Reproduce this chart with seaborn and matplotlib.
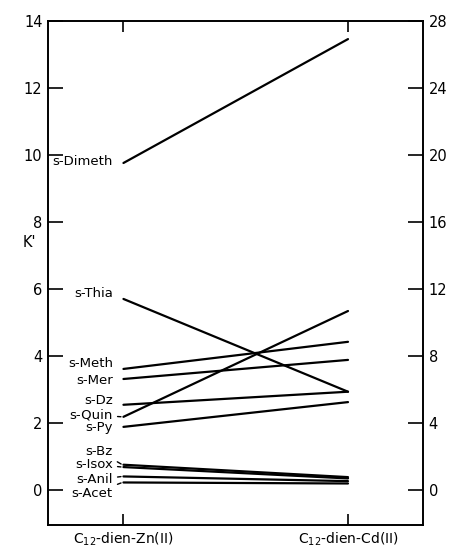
import matplotlib
matplotlib.use("Agg")
import matplotlib.pyplot as plt
import seaborn as sns
import pandas as pd

# ---- data ----
compounds = ["s-Dimeth", "s-Thia", "s-Meth", "s-Mer", "s-Dz", "s-Quin",
             "s-Py", "s-Bz", "s-Isox", "s-Anil", "s-Acet"]
k_zn = [9.76, 5.70, 3.61, 3.31, 2.54, 2.18, 1.88, 0.75, 0.68, 0.40, 0.22]
k_cd = [13.46, 2.93, 4.42, 3.88, 2.93, 5.34, 2.62, 0.38, 0.34, 0.26, 0.19]
complexes = ["C$_{12}$-dien-Zn(II)", "C$_{12}$-dien-Cd(II)"]
left_ticks = [0, 2, 4, 6, 8, 10, 12, 14]
right_ticks = [0, 4, 8, 12, 16, 20, 24, 28]

# label layout (text y in K' units, whether a leader stroke is drawn)
label_y = [9.80, 5.85, 3.76, 3.27, 2.66, 2.24, 1.85, 1.15, 0.76, 0.30, -0.12]
leader = [False, False, False, False, False, True, False, True, True, True, True]

rows = []
for c, a, b in zip(compounds, k_zn, k_cd):
    rows.append({"compound": c, "pos": 0, "K": a})
    rows.append({"compound": c, "pos": 1, "K": b})
df = pd.DataFrame(rows)

sns.set_style("ticks")
plt.rcParams["font.family"] = ["DejaVu Sans"]
plt.rcParams["text.color"] = "black"
plt.rcParams["xtick.color"] = "black"
plt.rcParams["ytick.color"] = "black"
plt.rcParams["xtick.labelcolor"] = "black"
plt.rcParams["ytick.labelcolor"] = "black"
plt.rcParams["axes.labelcolor"] = "black"

fig = plt.figure(figsize=(4.54, 5.53), dpi=100)
ax = fig.add_axes([48 / 454, 1 - 525 / 553, 375 / 454, 504 / 553])

sns.lineplot(data=df, x="pos", y="K", units="compound", estimator=None,
             color="black", linewidth=1.6, ax=ax, legend=False)

ax.set_xlim(-0.336, 1.334)
ax.set_ylim(-1.05, 14)
ax.set_xticks([0, 1])
ax.set_xticklabels(complexes, fontsize=10)
ax.set_yticks(left_ticks)
ax.set_yticklabels([str(t) for t in left_ticks], fontsize=10.5)
ax.tick_params(axis="y", direction="in", length=11, width=1.2, pad=4)
ax.tick_params(axis="x", direction="in", length=8, width=1.2, pad=4,
               top=True, bottom=True)
ax.set_xlabel("")
ax.set_ylabel("K'", rotation=0, fontsize=10.5)
ax.yaxis.set_label_coords(-0.05, 0.545)
for s in ax.spines.values():
    s.set_linewidth(1.2)
    s.set_color("black")

ax2 = ax.twinx()
ax2.set_ylim(-2.1, 28)
ax2.set_yticks(right_ticks)
ax2.set_yticklabels([str(t) for t in right_ticks], fontsize=10.5)
ax2.tick_params(axis="y", direction="in", length=11, width=1.2, pad=4)
for s in ax2.spines.values():
    s.set_linewidth(1.2)
    s.set_color("black")

text_x = -0.047
for name, yv, ly, ld in zip(compounds, k_zn, label_y, leader):
    if ld:
        ax.annotate(name, xy=(-0.005, yv), xytext=(text_x, ly),
                    ha="right", va="center", fontsize=9.5,
                    arrowprops=dict(arrowstyle="-", color="black", lw=1.0,
                                    shrinkA=1, shrinkB=1))
    else:
        ax.text(text_x, ly, name, ha="right", va="center", fontsize=9.5)

fig.savefig("out.png", dpi=100)
